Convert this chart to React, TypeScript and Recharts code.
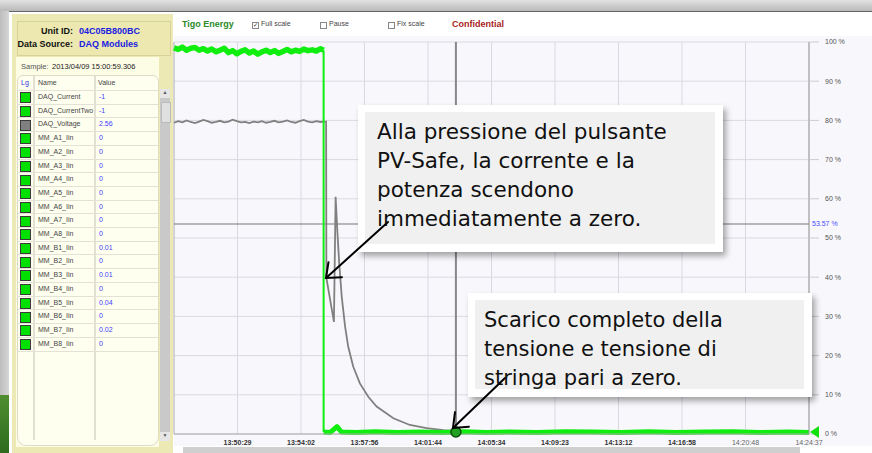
import React from 'react';
import { LineChart, Line, XAxis, YAxis, CartesianGrid, ReferenceLine, ReferenceDot } from 'recharts';

// x values are seconds from the left edge of the plot (13:46:42)
const spanSeconds = 2275;
const timeLabels = ['13:50:29', '13:54:02', '13:57:56', '14:01:44', '14:05:34', '14:09:23', '14:13:12', '14:16:58', '14:20:48', '14:24:37'];
const percentTicks = [0, 10, 20, 30, 40, 50, 60, 70, 80, 90, 100];

const preTimes = [0, 15, 30, 45, 60, 75, 90, 105, 120, 135, 150, 165, 180, 195, 210, 225, 240, 255, 270, 285, 300, 315, 330, 345, 360, 375, 390, 405, 420, 435, 450, 465, 480, 495, 510, 525, 536];
const currentPre = [98.5, 98.1, 98.7, 97.9, 98.4, 98.6, 97.9, 98.3, 97.7, 98.2, 97.5, 97.9, 98.4, 97.3, 97.8, 97.0, 97.6, 98.0, 97.2, 97.7, 96.9, 97.5, 97.9, 97.3, 97.8, 97.1, 97.6, 98.1, 97.5, 97.9, 97.6, 98.2, 97.8, 98.0, 97.7, 98.3, 97.9];
const voltagePre = [79.4, 79.8, 79.5, 80.0, 79.6, 79.3, 79.7, 80.1, 79.8, 79.4, 79.6, 79.9, 79.5, 79.7, 80.2, 79.8, 79.5, 79.6, 79.3, 79.7, 79.5, 79.8, 79.4, 79.6, 79.9, 79.5, 79.7, 80.0, 79.6, 79.4, 79.8, 80.1, 79.7, 79.5, 79.8, 79.6, 79.7];

const currentLowTimes = [536, 560, 584, 600, 650, 720, 800, 880, 960, 1040, 1120, 1200, 1300, 1400, 1500, 1600, 1700, 1800, 1900, 2000, 2100, 2200, 2275];
const currentLow = [0.5, 0.4, 1.9, 0.5, 0.4, 0.6, 0.4, 0.5, 0.4, 0.6, 0.4, 0.5, 0.4, 0.6, 0.5, 0.4, 0.6, 0.4, 0.5, 0.6, 0.4, 0.5, 0.4];

const voltageTailTimes = [545, 546, 573, 579, 585, 592, 601, 613, 624, 642, 666, 696, 726, 786, 845, 905, 965, 1001, 1100, 1400, 1800, 2275];
const voltageTail = [79.7, 39.8, 28.6, 60.5, 52.0, 43.5, 35.0, 27.4, 22.3, 17.2, 12.9, 9.5, 7.0, 4.0, 2.3, 1.5, 1.0, 0.8, 0.5, 0.4, 0.4, 0.4];

const cursorTime = 1010;
const cursorLevel = 53.57;

const rowNames = ['DAQ_Current', 'DAQ_CurrentTwo', 'DAQ_Voltage', 'MM_A1_Iin', 'MM_A2_Iin', 'MM_A3_Iin', 'MM_A4_Iin', 'MM_A5_Iin', 'MM_A6_Iin', 'MM_A7_Iin', 'MM_A8_Iin', 'MM_B1_Iin', 'MM_B2_Iin', 'MM_B3_Iin', 'MM_B4_Iin', 'MM_B5_Iin', 'MM_B6_Iin', 'MM_B7_Iin', 'MM_B8_Iin'];
const rowValues = ['-1', '-1', '2.56', '0', '0', '0', '0', '0', '0', '0', '0', '0.01', '0', '0.01', '0', '0.04', '0', '0.02', '0'];
const rowColors = rowNames.map((n) => (n === 'DAQ_Voltage' ? '#808080' : '#00e000'));

const callout1 = ['Alla pressione del pulsante', 'PV-Safe, la corrente e la', 'potenza scendono', 'immediatamente a zero.'];
const callout2 = ['Scarico completo della', 'tensione e tensione di', 'stringa pari a zero.'];

const xTicks = timeLabels.map((_, i) => ((i + 1) * spanSeconds) / timeLabels.length);
const voltageData = [
  ...preTimes.map((t, i) => ({ t, v: voltagePre[i] })),
  ...voltageTailTimes.map((t, i) => ({ t, v: voltageTail[i] })),
];
const currentHigh = preTimes.map((t, i) => ({ t, v: currentPre[i] }));
const currentDrop = [
  { t: preTimes[preTimes.length - 1], v: currentPre[currentPre.length - 1] },
  { t: currentLowTimes[0], v: currentLow[0] },
];
const currentLowData = currentLowTimes.map((t, i) => ({ t, v: currentLow[i] }));

const ui = '"Liberation Sans", Arial, sans-serif';

const TimeTick = (props: any) => {
  const { x, y, index } = props;
  const bold = index < 8;
  return (
    <text x={x} y={y} dy={7} textAnchor="middle" fontSize={7} fontFamily={ui}
      fontWeight={bold ? 700 : 400} fill={bold ? '#333' : '#666'}>
      {timeLabels[index]}
    </text>
  );
};

const EndMarker = (props: any) => {
  const { cx, cy } = props;
  return <polygon points={`${cx + 1},${cy} ${cx + 10},${cy - 6} ${cx + 10},${cy + 6}`} fill="#10e010" />;
};

function arrow(x1: number, y1: number, x2: number, y2: number) {
  const a = Math.atan2(y1 - y2, x1 - x2);
  const len = 16;
  const s = 0.68;
  return (
    <g stroke="#000" strokeWidth={2} fill="none" strokeLinecap="round">
      <line x1={x1} y1={y1} x2={x2} y2={y2} />
      <polyline points={`${x2 + len * Math.cos(a + s)},${y2 + len * Math.sin(a + s)} ${x2},${y2} ${x2 + len * Math.cos(a - s)},${y2 + len * Math.sin(a - s)}`} />
    </g>
  );
}

function Callout({ left, top, width, height, padL, padT, size, lines }: any) {
  return (
    <div style={{ position: 'absolute', left, top, width, height, background: '#fff', boxShadow: '3px 4px 6px rgba(0,0,0,0.35)' }}>
      <div style={{ position: 'absolute', left: 7, top: 7, right: 8, bottom: 8, background: '#f0f0f0', overflow: 'hidden' }}>
        <div style={{ paddingLeft: padL, paddingTop: padT, fontFamily: '"DejaVu Sans", Verdana, sans-serif', fontSize: size, lineHeight: '29px', color: '#111', whiteSpace: 'nowrap' }}>
          {lines.map((l: string, i: number) => <div key={i}>{l}</div>)}
        </div>
      </div>
    </div>
  );
}

function CheckBox({ x, label, checked }: any) {
  return (
    <>
      <div style={{ position: 'absolute', left: x, top: 22, width: 5, height: 5, border: '1px solid #888', background: '#fff', fontSize: 6, lineHeight: '5px', color: '#222' }}>
        {checked ? '✓' : ''}
      </div>
      <div style={{ position: 'absolute', left: x + 9, top: 20, fontSize: 7, fontFamily: ui, color: '#444' }}>{label}</div>
    </>
  );
}

export default function App() {
  return (
    <div style={{ position: 'absolute', left: 0, top: 0, width: 872, height: 453, overflow: 'hidden', background: '#fff', fontFamily: ui }}>
      {/* window frame */}
      <div style={{ position: 'absolute', left: 0, top: 0, width: 872, height: 11, background: 'linear-gradient(#e2e2e2, #b9b9b9)' }} />
      <div style={{ position: 'absolute', left: 9, top: 11, width: 863, height: 1, background: '#666' }} />
      <div style={{ position: 'absolute', left: 0, top: 11, width: 9, height: 384, background: 'linear-gradient(90deg, #bdbdbd, #d6d6d6)' }} />
      <div style={{ position: 'absolute', left: 0, top: 395, width: 9, height: 58, background: 'linear-gradient(#4f8f30, #2f6a1f)' }} />

      {/* left panel */}
      <div style={{ position: 'absolute', left: 12, top: 14, width: 161, height: 439, background: '#ede9b4' }} />
      <div style={{ position: 'absolute', left: 17, top: 21, width: 152, height: 33, border: '1px solid #d6d29a', background: '#ece8b0' }} />
      <div style={{ position: 'absolute', left: 10, top: 26, width: 63, textAlign: 'right', fontSize: 9, fontWeight: 700, color: '#111', whiteSpace: 'nowrap' }}>Unit ID:</div>
      <div style={{ position: 'absolute', left: 79, top: 26, fontSize: 9, fontWeight: 700, color: '#2020e0', whiteSpace: 'nowrap' }}>04C05B800BC</div>
      <div style={{ position: 'absolute', left: 10, top: 39, width: 63, textAlign: 'right', fontSize: 9, fontWeight: 700, color: '#111', whiteSpace: 'nowrap' }}>Data Source:</div>
      <div style={{ position: 'absolute', left: 79, top: 39, fontSize: 9, fontWeight: 700, color: '#2020e0', whiteSpace: 'nowrap' }}>DAQ Modules</div>
      <div style={{ position: 'absolute', left: 16, top: 57, width: 143, height: 390, background: '#fdfde6' }} />
      <div style={{ position: 'absolute', left: 21, top: 62, fontSize: 7.5, color: '#555' }}>Sample:</div>
      <div style={{ position: 'absolute', left: 52, top: 62, fontSize: 7.5, color: '#222' }}>2013/04/09 15:00:59.306</div>

      <div style={{ position: 'absolute', left: 17, top: 75, width: 140, height: 369, background: '#fffff0', border: '1px solid #dedbc8', borderRadius: '6px 6px 9px 9px' }} />
      <div style={{ position: 'absolute', left: 33, top: 76, width: 1.5, height: 364, background: '#e2e0d2' }} />
      <div style={{ position: 'absolute', left: 94, top: 76, width: 1.5, height: 364, background: '#e2e0d2' }} />
      <div style={{ position: 'absolute', left: 21, top: 79, fontSize: 7, color: '#3030e0' }}>Lg</div>
      <div style={{ position: 'absolute', left: 38, top: 79, fontSize: 7, color: '#444' }}>Name</div>
      <div style={{ position: 'absolute', left: 98, top: 79, fontSize: 7, color: '#444' }}>Value</div>
      {rowNames.map((n, i) => {
        const top = 90.5 + i * 13.7;
        return (
          <React.Fragment key={n}>
            <div style={{ position: 'absolute', left: 18, top: top - 0.5, width: 140, height: 1, background: '#e4e2d6' }} />
            <div style={{ position: 'absolute', left: 20, top: top + 1.8, width: 9, height: 9, background: rowColors[i], border: '1px solid #3a3a3a' }} />
            <div style={{ position: 'absolute', left: 38, top: top + 2.5, fontSize: 7, color: '#444' }}>{n}</div>
            <div style={{ position: 'absolute', left: 99, top: top + 2.5, fontSize: 7, color: '#4040ff' }}>{rowValues[i]}</div>
          </React.Fragment>
        );
      })}
      <div style={{ position: 'absolute', left: 18, top: 350.5, width: 140, height: 1, background: '#e4e2d6' }} />
      <div style={{ position: 'absolute', left: 160, top: 89, width: 10, height: 352, background: '#c9c9c9' }} />
      <div style={{ position: 'absolute', left: 160, top: 89, width: 10, height: 9, background: '#e6e6e6', fontSize: 5, textAlign: 'center', color: '#555' }}>▲</div>
      <div style={{ position: 'absolute', left: 161, top: 102, width: 8, height: 19, background: '#e0e0e0', border: '1px solid #bbb' }} />
      <div style={{ position: 'absolute', left: 160, top: 432, width: 10, height: 9, background: '#e6e6e6', fontSize: 5, textAlign: 'center', color: '#555' }}>▼</div>

      {/* toolbar */}
      <div style={{ position: 'absolute', left: 182, top: 19, fontSize: 9, fontWeight: 700, color: '#2a8a2a' }}>Tigo Energy</div>
      <CheckBox x={252} label="Full scale" checked />
      <CheckBox x={320} label="Pause" />
      <CheckBox x={388} label="Fix scale" />
      <div style={{ position: 'absolute', left: 452, top: 19, fontSize: 9, fontWeight: 700, color: '#a81c1c' }}>Confidential</div>

      {/* chart panel */}
      <div style={{ position: 'absolute', left: 174, top: 36, width: 698, height: 410, background: '#f8f8fc' }} />
      <div style={{ position: 'absolute', left: 183, top: 447, width: 617, height: 6, background: '#cfcfcf' }} />
      <div style={{ position: 'absolute', left: 160, top: 30 }}>
        <LineChart width={712} height={423} margin={{ top: 12, right: 13, bottom: 5, left: 14 }}>
          <CartesianGrid stroke="#d9d9e1" strokeWidth={1} />
          <XAxis dataKey="t" type="number" domain={[0, spanSeconds]} ticks={xTicks} interval={0}
            height={14} tickSize={0} tickMargin={4} tick={<TimeTick />} axisLine={{ stroke: '#aaa' }} />
          <YAxis type="number" orientation="right" domain={[0, 100]} ticks={percentTicks} width={50}
            tickSize={10} tickMargin={6} tickLine={{ stroke: '#ccc' }} axisLine={{ stroke: '#999' }}
            tick={{ fontSize: 7, fill: '#555', fontFamily: ui }} tickFormatter={(v) => `${v} %`} />
          <ReferenceLine x={0} stroke="#bbb" />
          <ReferenceLine x={cursorTime} stroke="#888" strokeWidth={2} />
          <ReferenceLine y={cursorLevel} stroke="#777" strokeWidth={1}
            label={{ value: `${cursorLevel} %`, position: 'right', fill: '#4848ff', fontSize: 7, offset: 3, fontFamily: ui }} />
          <Line data={voltageData} dataKey="v" type="linear" stroke="#808080" strokeWidth={1.8} dot={false} isAnimationActive={false} />
          <Line data={currentHigh} dataKey="v" type="linear" stroke="#10ee10" strokeWidth={5.5} dot={false} isAnimationActive={false} strokeLinejoin="round" />
          <Line data={currentDrop} dataKey="v" type="linear" stroke="#10ee10" strokeWidth={2} dot={false} isAnimationActive={false} />
          <Line data={currentLowData} dataKey="v" type="linear" stroke="#10ee10" strokeWidth={5} dot={false} isAnimationActive={false} strokeLinejoin="round" />
          <ReferenceDot x={cursorTime} y={currentLow[0]} r={5} fill="#22a022" stroke="#0b4f0b" strokeWidth={1.5} />
          <ReferenceDot x={spanSeconds} y={currentLow[0]} r={5} shape={<EndMarker />} />
        </LineChart>
      </div>

      {/* callouts */}
      <Callout left={358} top={105} width={365} height={147} padL={12} padT={4.5} size={21.5} lines={callout1} />
      <Callout left={468} top={293} width={344} height={104} padL={9} padT={5.5} size={21} lines={callout2} />
      <svg width={872} height={453} style={{ position: 'absolute', left: 0, top: 0, pointerEvents: 'none' }}>
        {arrow(388, 222, 326, 278)}
        {arrow(505, 378, 453, 428)}
      </svg>
    </div>
  );
}
